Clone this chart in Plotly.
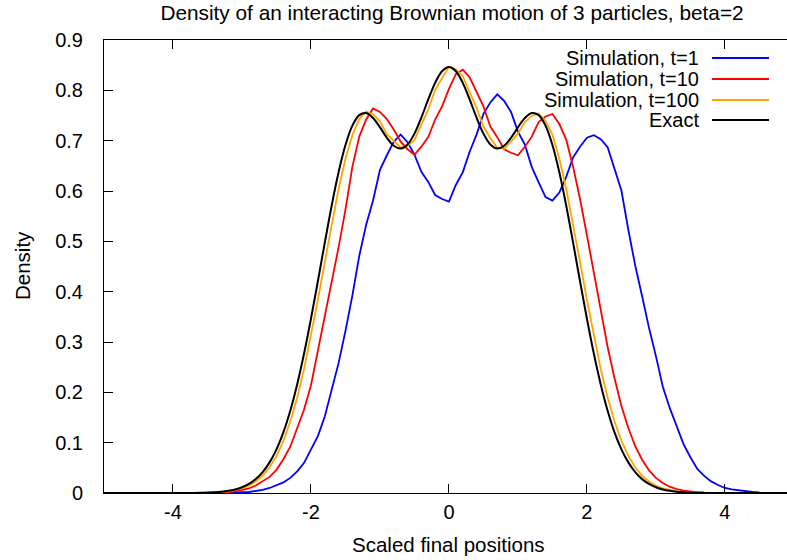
import numpy as np
import plotly.graph_objects as go

# ---------------- data ----------------
# simulation histograms sampled on x = -3.5 ... 4.5 (step 0.1)
x_sim = np.round(np.arange(-3.5, 4.5001, 0.1), 2)

sim_t1 = [
    0, 0, 0.0005, 0.0008, 0.001, 0.0015, 0.002, 0.004, 0.006, 0.010,          # -3.5 .. -2.6
    0.015, 0.021, 0.030, 0.043, 0.060, 0.086, 0.113, 0.152, 0.207, 0.258,     # -2.5 .. -1.6
    0.322, 0.392, 0.471, 0.533, 0.581, 0.642, 0.671, 0.698, 0.712, 0.697,     # -1.5 .. -0.6
    0.672, 0.638, 0.618, 0.592, 0.584, 0.579, 0.612, 0.637, 0.678, 0.712,     # -0.5 .. 0.4
    0.753, 0.776, 0.792, 0.779, 0.757, 0.718, 0.692, 0.648, 0.617, 0.588,     # 0.5 .. 1.4
    0.581, 0.597, 0.628, 0.667, 0.688, 0.706, 0.711, 0.703, 0.687, 0.643,     # 1.5 .. 2.4
    0.601, 0.523, 0.452, 0.391, 0.328, 0.272, 0.211, 0.169, 0.131, 0.097,     # 2.5 .. 3.4
    0.071, 0.048, 0.034, 0.023, 0.016, 0.010, 0.007, 0.005, 0.003, 0.002,     # 3.5 .. 4.4
    0.001,                                                                    # 4.5
]

sim_t10 = [
    0.0003, 0.0006, 0.0011, 0.002, 0.0034, 0.0056, 0.009, 0.015, 0.023, 0.032,
    0.046, 0.067, 0.092, 0.127, 0.166, 0.214, 0.281, 0.348, 0.421, 0.488,
    0.563, 0.648, 0.708, 0.742, 0.764, 0.757, 0.743, 0.722, 0.698, 0.683,
    0.672, 0.688, 0.707, 0.742, 0.768, 0.803, 0.832, 0.841, 0.826, 0.797,
    0.768, 0.728, 0.707, 0.683, 0.676, 0.671, 0.688, 0.708, 0.737, 0.748,
    0.753, 0.733, 0.702, 0.648, 0.584, 0.512, 0.436, 0.360, 0.290, 0.228,
    0.173, 0.129, 0.093, 0.066, 0.045, 0.030, 0.020, 0.0125, 0.0078, 0.0047,
    0.0028, 0.0016, 0.0009, 0.0005, 0.0003, 0.0002, 0.0001, 0, 0, 0,
    0,
]

sim_t100 = [
    0.0007, 0.0012, 0.002, 0.0034, 0.0057, 0.0092, 0.0147, 0.0228, 0.0346, 0.0512,
    0.0738, 0.1037, 0.1421, 0.1896, 0.2464, 0.3116, 0.3835, 0.4589, 0.5339, 0.604,
    0.664, 0.711, 0.743, 0.758, 0.752, 0.738, 0.713, 0.699, 0.686, 0.690,
    0.701, 0.732, 0.762, 0.801, 0.825, 0.847, 0.842, 0.828, 0.796, 0.765,
    0.728, 0.705, 0.686, 0.684, 0.698, 0.714, 0.737, 0.749, 0.754, 0.739,
    0.712, 0.664, 0.604, 0.534, 0.459, 0.3835, 0.3116, 0.2464, 0.1896, 0.1421,
    0.1037, 0.0738, 0.0512, 0.0346, 0.0228, 0.0147, 0.0092, 0.0057, 0.0034, 0.002,
    0.0012, 0.0007, 0.0004, 0.0002, 0.0001, 0, 0, 0, 0, 0,
    0,
]

# exact density sampled on x = -5 ... 5 (step 0.1)
x_exact = np.round(np.arange(-5.0, 5.0001, 0.1), 2)
exact = [
    0, 0, 0, 0, 0, 0, 0, 0, 0, 0,
    0.00003, 0.00007, 0.00013, 0.00024, 0.00045, 0.0008, 0.0015, 0.0025, 0.0043, 0.0070,
    0.0114, 0.0180, 0.0276, 0.0415, 0.0608, 0.0867, 0.1206, 0.1635, 0.2157, 0.2770,
    0.3462, 0.4207, 0.4970, 0.5708, 0.6371, 0.6913, 0.7298, 0.7508, 0.7549, 0.7450,
    0.7264, 0.7058, 0.6899, 0.6844, 0.6925, 0.7140, 0.7458, 0.7818, 0.8148, 0.8380,
    0.8463,
    0.8380, 0.8148, 0.7818, 0.7458, 0.7140, 0.6925, 0.6844, 0.6899, 0.7058, 0.7264,
    0.7450, 0.7549, 0.7508, 0.7298, 0.6913, 0.6371, 0.5708, 0.4970, 0.4207, 0.3462,
    0.2770, 0.2157, 0.1635, 0.1206, 0.0867, 0.0608, 0.0415, 0.0276, 0.0180, 0.0114,
    0.0070, 0.0043, 0.0025, 0.0015, 0.0008, 0.00045, 0.00024, 0.00013, 0.00007, 0.00003,
    0, 0, 0, 0, 0, 0, 0, 0, 0, 0,
]

series_names = ["Simulation, t=1", "Simulation, t=10", "Simulation, t=100", "Exact"]
series_colors = ["#0000ff", "#ff0000", "#ffa500", "#000000"]

x_tick_vals = [-4, -2, 0, 2, 4]
x_tick_text = ["-4", "-2", "0", "2", "4"]
y_tick_vals = [0, 0.1, 0.2, 0.3, 0.4, 0.5, 0.6, 0.7, 0.8, 0.9]
y_tick_text = ["0", "0.1", "0.2", "0.3", "0.4", "0.5", "0.6", "0.7", "0.8", "0.9"]

title_text = "Density of an interacting Brownian motion of 3 particles, beta=2"
x_title = "Scaled final positions"
y_title = "Density"

# ---------------- figure ----------------
FONT = "Liberation Sans, Arial, Helvetica, sans-serif"
W, H = 787, 560
L, R, T, B = 104, 0, 40, 67
PW, PH = W - L - R, H - T - B

def px_x(p):
    return (p - L) / PW

def px_y(p):
    return (H - B - p) / PH

fig = go.Figure()
sim_data = [sim_t1, sim_t10, sim_t100]
for name, color, ys in zip(series_names[:3], series_colors[:3], sim_data):
    fig.add_trace(go.Scatter(x=x_sim, y=ys, mode="lines", name=name,
                             line=dict(color=color, width=1.8), showlegend=False))
fig.add_trace(go.Scatter(x=x_exact, y=exact, mode="lines", name=series_names[3],
                         line=dict(color=series_colors[3], width=2, shape="spline"),
                         showlegend=False))

# legend drawn gnuplot-style: right-aligned text, sample line to the right
legend_rows = [58, 79, 100, 120]
annotations = []
shapes = []
for name, color, row in zip(series_names, series_colors, legend_rows):
    annotations.append(dict(text=name, xref="paper", yref="paper", x=px_x(700), y=px_y(row),
                            xanchor="right", yanchor="middle", showarrow=False, borderpad=0,
                            font=dict(family=FONT, size=20, color="black")))
    shapes.append(dict(type="line", xref="paper", yref="paper",
                       x0=px_x(712), x1=px_x(769), y0=px_y(row), y1=px_y(row),
                       line=dict(color=color, width=2)))

annotations.append(dict(text=x_title, xref="paper", yref="paper", x=px_x(448), y=px_y(544),
                        xanchor="center", yanchor="middle", showarrow=False,
                        font=dict(family=FONT, size=20.5, color="black")))
annotations.append(dict(text=y_title, xref="paper", yref="paper", x=px_x(22), y=px_y(266),
                        xanchor="center", yanchor="middle", showarrow=False, textangle=-90,
                        font=dict(family=FONT, size=20.5, color="black")))

fig.update_layout(
    width=W, height=H,
    margin=dict(l=L, r=R, t=T, b=B, pad=0),
    paper_bgcolor="white", plot_bgcolor="white",
    font=dict(family=FONT, size=20, color="black"),
    title=dict(text=title_text, xref="container", yref="container",
               x=452 / W, y=1 - 13 / H, xanchor="center", yanchor="middle",
               font=dict(family=FONT, size=20.8, color="black")),
    annotations=annotations,
    shapes=shapes,
    xaxis=dict(range=[-5, 4.9], tickvals=x_tick_vals, ticktext=x_tick_text,
               ticks="inside", ticklen=9, tickcolor="black", tickwidth=1,
               showline=True, linecolor="black", linewidth=1, mirror="ticks",
               showgrid=False, zeroline=False, ticklabelstandoff=1,
               tickfont=dict(family=FONT, size=20, color="black")),
    yaxis=dict(range=[0, 0.9], tickvals=y_tick_vals, ticktext=y_tick_text,
               ticks="inside", ticklen=9, tickcolor="black", tickwidth=1,
               showline=True, linecolor="black", linewidth=1, mirror=False,
               showgrid=False, zeroline=False, ticklabelstandoff=16,
               tickfont=dict(family=FONT, size=20, color="black")),
)

# remove the browser's default 8px page margin so the chart sits at the window origin
fig.write_html("out.html", config={"displayModeBar": False},
               post_script="document.body.style.margin='0';")
